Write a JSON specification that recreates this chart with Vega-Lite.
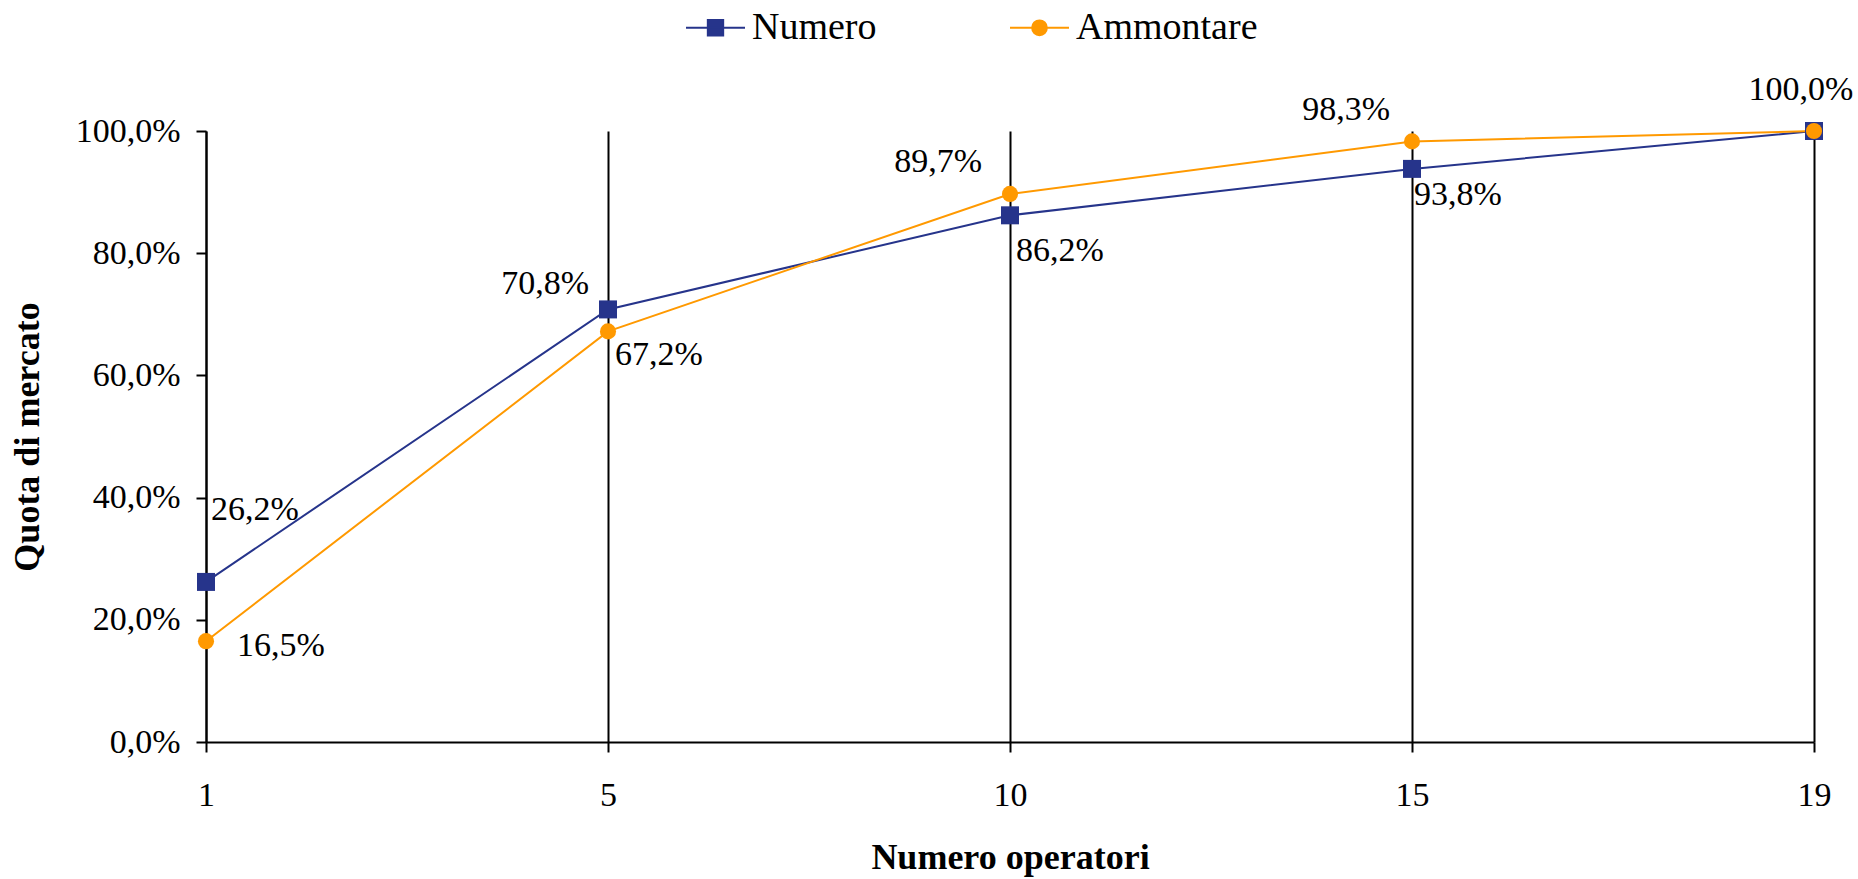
{
  "$schema": "https://vega.github.io/schema/vega-lite/v6.json",
  "width": 1608,
  "height": 611,
  "autosize": {"type": "none"},
  "padding": {"left": 206, "top": 131, "right": 44, "bottom": 137},
  "background": "white",
  "config": {
    "locale": {"number": {"decimal": ",", "thousands": ".", "grouping": [3], "currency": ["", " €"]}},
    "view": {"stroke": null},
    "font": "Liberation Serif",
    "legend": {
      "orient": "none", "legendX": 479, "legendY": -134, "direction": "horizontal",
      "padding": 0, "symbolSize": 3481, "symbolStrokeWidth": 2,
      "labelFont": "Liberation Serif", "labelFontSize": 38, "labelColor": "black", "labelOffset": 6, "columnPadding": 129, "labelLimit": 400
    }
  },
  "data": {
    "values": [
      {"operatori": "1", "serie": "Numero", "quota": 0.262},
      {"operatori": "5", "serie": "Numero", "quota": 0.708},
      {"operatori": "10", "serie": "Numero", "quota": 0.862},
      {"operatori": "15", "serie": "Numero", "quota": 0.938},
      {"operatori": "19", "serie": "Numero", "quota": 1.0},
      {"operatori": "1", "serie": "Ammontare", "quota": 0.165},
      {"operatori": "5", "serie": "Ammontare", "quota": 0.672},
      {"operatori": "10", "serie": "Ammontare", "quota": 0.897},
      {"operatori": "15", "serie": "Ammontare", "quota": 0.983},
      {"operatori": "19", "serie": "Ammontare", "quota": 1.0}
    ]
  },
  "encoding": {
    "x": {
      "field": "operatori", "type": "ordinal", "sort": ["1", "5", "10", "15", "19"],
      "scale": {"type": "point", "padding": 0},
      "axis": {
        "title": "Numero operatori", "titleFont": "Liberation Serif", "titleFontWeight": "bold", "titleFontSize": 36, "titleColor": "black", "titlePadding": 28,
        "labelFont": "Liberation Serif", "labelFontSize": 34, "labelColor": "black", "labelPadding": 26, "labelAngle": 0,
        "tickSize": 10, "tickColor": "black", "tickWidth": 2,
        "domainColor": "black", "domainWidth": 2,
        "grid": true, "gridColor": "black", "gridWidth": 2, "gridOpacity": 1
      }
    },
    "y": {
      "field": "quota", "type": "quantitative",
      "scale": {"domain": [0, 1], "nice": false},
      "axis": {
        "title": "Quota di mercato", "titleFont": "Liberation Serif", "titleFontWeight": "bold", "titleFontSize": 36, "titleColor": "black", "titlePadding": 29,
        "values": [0, 0.2, 0.4, 0.6, 0.8, 1.0], "format": ".1%",
        "labelFont": "Liberation Serif", "labelFontSize": 34, "labelColor": "black", "labelPadding": 16,
        "tickSize": 10, "tickColor": "black", "tickWidth": 2,
        "domainColor": "black", "domainWidth": 2, "grid": false
      }
    },
    "color": {
      "field": "serie", "type": "nominal",
      "scale": {"domain": ["Numero", "Ammontare"], "range": ["#26348B", "#FF9900"]},
      "legend": {
        "title": null,
        "encode": {
          "symbols": {
            "update": {
              "shape": {"signal": "datum.value === 'Numero' ? 'M-1,0H1M-0.26,-0.26H0.26V0.26H-0.26Z' : 'M-1,0H1M0.25,0A0.25,0.25,0,1,1,-0.25,0A0.25,0.25,0,1,1,0.25,0Z'"},
              "stroke": {"signal": "datum.value === 'Numero' ? '#26348B' : '#FF9900'"},
              "fill": {"signal": "datum.value === 'Numero' ? '#26348B' : '#FF9900'"},
              "strokeWidth": {"value": 2},
              "opacity": {"value": 1}
            }
          }
        }
      }
    }
  },
  "layer": [
    {
      "mark": {"type": "line", "strokeWidth": 2},
      "encoding": {
        "order": {"field": "serie", "sort": "descending"}
      }
    },
    {
      "transform": [{"filter": "datum.serie === 'Numero'"}],
      "mark": {"type": "point", "shape": "square", "filled": true, "size": 324, "opacity": 1}
    },
    {
      "transform": [{"filter": "datum.serie === 'Ammontare'"}],
      "mark": {"type": "point", "shape": "circle", "filled": true, "size": 260, "opacity": 1}
    },
    {
      "transform": [{"filter": "datum.serie === 'Numero' && datum.operatori === '1'"}],
      "mark": {"type": "text", "align": "left", "baseline": "middle", "dx": 5, "dy": -72, "fontSize": 34, "font": "Liberation Serif", "color": "black"},
      "encoding": {"color": {"value": "black"}, "text": {"field": "quota", "type": "quantitative", "format": ".1%"}}
    },
    {
      "transform": [{"filter": "datum.serie === 'Ammontare' && datum.operatori === '1'"}],
      "mark": {"type": "text", "align": "left", "baseline": "middle", "dx": 31, "dy": 5, "fontSize": 34, "font": "Liberation Serif", "color": "black"},
      "encoding": {"color": {"value": "black"}, "text": {"field": "quota", "type": "quantitative", "format": ".1%"}}
    },
    {
      "transform": [{"filter": "datum.serie === 'Numero' && datum.operatori === '5'"}],
      "mark": {"type": "text", "align": "right", "baseline": "middle", "dx": -19, "dy": -25, "fontSize": 34, "font": "Liberation Serif", "color": "black"},
      "encoding": {"color": {"value": "black"}, "text": {"field": "quota", "type": "quantitative", "format": ".1%"}}
    },
    {
      "transform": [{"filter": "datum.serie === 'Ammontare' && datum.operatori === '5'"}],
      "mark": {"type": "text", "align": "left", "baseline": "middle", "dx": 7, "dy": 24, "fontSize": 34, "font": "Liberation Serif", "color": "black"},
      "encoding": {"color": {"value": "black"}, "text": {"field": "quota", "type": "quantitative", "format": ".1%"}}
    },
    {
      "transform": [{"filter": "datum.serie === 'Ammontare' && datum.operatori === '10'"}],
      "mark": {"type": "text", "align": "right", "baseline": "middle", "dx": -28, "dy": -32, "fontSize": 34, "font": "Liberation Serif", "color": "black"},
      "encoding": {"color": {"value": "black"}, "text": {"field": "quota", "type": "quantitative", "format": ".1%"}}
    },
    {
      "transform": [{"filter": "datum.serie === 'Numero' && datum.operatori === '10'"}],
      "mark": {"type": "text", "align": "left", "baseline": "middle", "dx": 6, "dy": 36, "fontSize": 34, "font": "Liberation Serif", "color": "black"},
      "encoding": {"color": {"value": "black"}, "text": {"field": "quota", "type": "quantitative", "format": ".1%"}}
    },
    {
      "transform": [{"filter": "datum.serie === 'Ammontare' && datum.operatori === '15'"}],
      "mark": {"type": "text", "align": "right", "baseline": "middle", "dx": -22, "dy": -31, "fontSize": 34, "font": "Liberation Serif", "color": "black"},
      "encoding": {"color": {"value": "black"}, "text": {"field": "quota", "type": "quantitative", "format": ".1%"}}
    },
    {
      "transform": [{"filter": "datum.serie === 'Numero' && datum.operatori === '15'"}],
      "mark": {"type": "text", "align": "left", "baseline": "middle", "dx": 2, "dy": 26, "fontSize": 34, "font": "Liberation Serif", "color": "black"},
      "encoding": {"color": {"value": "black"}, "text": {"field": "quota", "type": "quantitative", "format": ".1%"}}
    },
    {
      "transform": [{"filter": "datum.serie === 'Ammontare' && datum.operatori === '19'"}],
      "mark": {"type": "text", "align": "center", "baseline": "middle", "dx": -13, "dy": -41, "fontSize": 34, "font": "Liberation Serif", "color": "black"},
      "encoding": {"color": {"value": "black"}, "text": {"field": "quota", "type": "quantitative", "format": ".1%"}}
    }
  ]
}
